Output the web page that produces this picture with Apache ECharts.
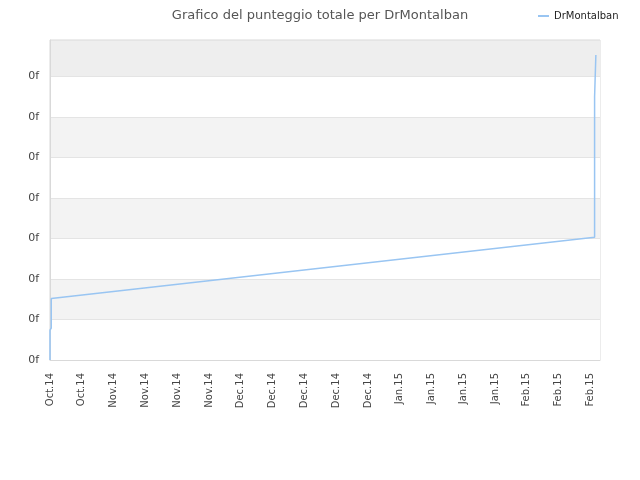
<!DOCTYPE html>
<html>
<head>
<meta charset="utf-8">
<script src="https://cdn.jsdelivr.net/npm/echarts@6/dist/echarts.min.js"></script>
<style>
html,body{margin:0;padding:0;background:#fff;}
#c{width:640px;height:480px;}
</style>
</head>
<body>
<div id="c"></div>
<script>
// Tick labels
var xTickLabels = ['Oct.14','Oct.14','Nov.14','Nov.14','Nov.14','Nov.14','Dec.14','Dec.14','Dec.14','Dec.14','Dec.14','Jan.15','Jan.15','Jan.15','Jan.15','Feb.15','Feb.15','Feb.15'];
var yTickLabels = ['0f','0f','0f','0f','0f','0f','0f','0f'];
// Series (x in weeks from first label, y in score units)
var seriesName = 'DrMontalban';
var xWeeks = [0, 0, 0.04, 0.04, 17.13, 17.13, 17.17, 17.17];
var scores = [0, 0.74, 0.79, 1.52, 3.03, 6.50, 6.52, 7.53];

var points = xWeeks.map(function (x, i) { return [x, scores[i]]; });
var font = 'DejaVu Sans';
var chart = echarts.init(document.getElementById('c'));
chart.setOption({
  animation: false,
  backgroundColor: '#ffffff',
  title: {
    text: 'Grafico del punteggio totale per DrMontalban',
    left: 'center',
    top: 4,
    textStyle: { fontFamily: font, fontSize: 13, fontWeight: 'normal', color: '#555555' }
  },
  legend: {
    data: [{ name: seriesName, icon: 'rect' }],
    left: 533,
    top: 6,
    itemWidth: 11,
    itemHeight: 2,
    itemGap: 6,
    textStyle: { fontFamily: font, fontSize: 10, color: '#222222' }
  },
  grid: {
    left: 50, right: 40, top: 40, bottom: 120,
    show: true, borderColor: '#d9d9d9', borderWidth: 1, backgroundColor: 'transparent'
  },
  xAxis: {
    type: 'value',
    min: 0,
    max: 17.3,
    interval: 1,
    axisLine: { show: true, lineStyle: { color: '#d9d9d9' } },
    axisTick: { show: false },
    splitLine: { show: false },
    axisLabel: {
      rotate: 90,
      margin: 13,
      fontFamily: font,
      fontSize: 10,
      color: '#444444',
      showMaxLabel: false,
      formatter: function (v) {
        var i = Math.round(v);
        return (Math.abs(v - i) < 1e-6 && xTickLabels[i] !== undefined) ? xTickLabels[i] : '';
      }
    }
  },
  yAxis: {
    type: 'value',
    min: 0,
    max: 7.9,
    interval: 1,
    axisLine: { show: true, lineStyle: { color: '#d9d9d9' } },
    axisTick: { show: false },
    splitLine: { show: true, lineStyle: { color: '#e4e4e4' } },
    splitArea: { show: true, areaStyle: { color: ['#ffffff','#f3f3f3','#ffffff','#f3f3f3','#ffffff','#f3f3f3','#ffffff','#eeeeee'] } },
    axisLabel: {
      margin: 11,
      fontFamily: font,
      fontSize: 11,
      color: '#444444',
      formatter: function (v) {
        var i = Math.round(v);
        return (Math.abs(v - i) < 1e-6 && yTickLabels[i] !== undefined) ? yTickLabels[i] : '';
      }
    }
  },
  series: [{
    name: seriesName,
    type: 'line',
    data: points,
    showSymbol: false,
    symbol: 'none',
    lineStyle: { color: '#99c5f2', width: 1.5 },
    itemStyle: { color: '#99c5f2' }
  }]
});
</script>
</body>
</html>
